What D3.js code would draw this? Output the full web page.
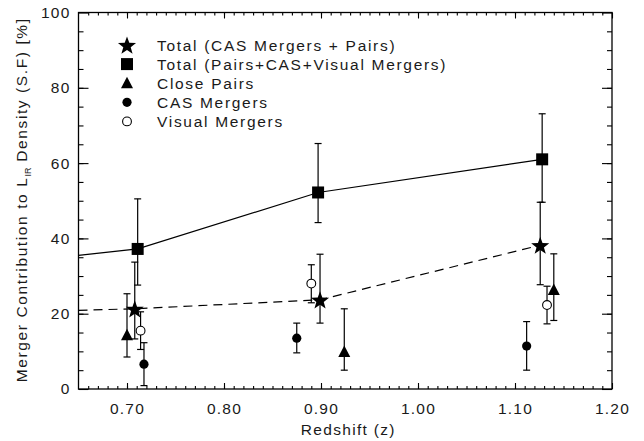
<!DOCTYPE html>
<html><head><meta charset="utf-8">
<script src="https://cdn.jsdelivr.net/npm/d3@7"></script>
<style>
body{margin:0;background:#fff}
svg{display:block}
text{font-family:"Liberation Sans",Arial,sans-serif;fill:#1a1a1a}
</style>
</head><body>
<svg id="chart" width="644" height="441"></svg>
<script>
// ---------- data ----------
const xTickValues = [0.70, 0.80, 0.90, 1.00, 1.10, 1.20];
const xTickLabels = ["0.70", "0.80", "0.90", "1.00", "1.10", "1.20"];
const yTickValues = [0, 20, 40, 60, 80, 100];
const yTickLabels = ["0", "20", "40", "60", "80", "100"];

// Total (CAS Mergers + Pairs) – stars, dashed line
const starZ  = [0.708, 0.899, 1.126];
const starV  = [21.3, 23.7, 38.2];
const starLo = [13.3, 17.5, 27.7];
const starHi = [33.7, 35.8, 49.6];
const dashStartZ = 0.65, dashStartV = 20.9;

// Total (Pairs+CAS+Visual Mergers) – squares, solid line
const squareZ  = [0.711, 0.897, 1.128];
const squareV  = [37.2, 52.2, 61.0];
const squareLo = [27.6, 44.2, 49.6];
const squareHi = [50.5, 65.2, 73.1];
const solidStartZ = 0.65, solidStartV = 35.5;

// Close Pairs – triangles
const triZ  = [0.700, 0.924, 1.140];
const triV  = [14.3, 9.8, 26.3];
const triLo = [8.5, 5.0, 18.2];
const triHi = [25.3, 21.3, 35.9];

// CAS Mergers – filled circles
const casZ  = [0.7175, 0.875, 1.112];
const casV  = [6.6, 13.5, 11.4];
const casLo = [0.9, 9.6, 5.0];
const casHi = [12.3, 17.5, 17.9];

// Visual Mergers – open circles
const visZ  = [0.714, 0.890, 1.133];
const visV  = [15.5, 28.0, 22.3];
const visLo = [10.5, 22.9, 17.3];
const visHi = [20.5, 33.0, 27.3];

const legendLabels = ["Total (CAS Mergers + Pairs)", "Total (Pairs+CAS+Visual Mergers)", "Close Pairs", "CAS Mergers", "Visual Mergers"];
const legendSymbols = ["star", "square", "triangle", "circle", "open"];

// ---------- layout ----------
const svg = d3.select("#chart");
const L = 78.5, R = 612, T = 12.5, B = 389;
const x = d3.scaleLinear().domain([0.65, 1.20]).range([L, R]);
const y = d3.scaleLinear().domain([0, 100]).range([B, T]);
const ink = "#000";

// frame
svg.append("rect").attr("x", L).attr("y", T).attr("width", R - L).attr("height", B - T)
  .attr("fill", "none").attr("stroke", ink).attr("stroke-width", 1.3);

// axes (ticks inward)
const xMinor = d3.range(66, 120).map(d => d / 100);
const yMinor = d3.range(5, 100, 5);
const fmtTickX = d => xTickLabels[xTickValues.findIndex(v => Math.abs(v - d) < 1e-9)] || "";
const fmtTickY = d => yTickLabels[yTickValues.indexOf(d)] || "";

function styleAxis(g) {
  g.select(".domain").remove();
  g.selectAll("line").attr("stroke", ink).attr("stroke-width", 1.1);
  g.selectAll("text").style("font-size", "15.5px").style("letter-spacing", "1.2px").attr("fill", "#1a1a1a");
}
// bottom
svg.append("g").attr("transform", `translate(0,${B})`)
  .call(d3.axisBottom(x).tickValues(xMinor).tickSize(-3).tickFormat("")).call(styleAxis);
svg.append("g").attr("transform", `translate(0,${B})`)
  .call(d3.axisBottom(x).tickValues(xTickValues).tickSize(-6).tickPadding(14).tickFormat(fmtTickX)).call(styleAxis);
// top
svg.append("g").attr("transform", `translate(0,${T})`)
  .call(d3.axisTop(x).tickValues(xMinor).tickSize(-3).tickFormat("")).call(styleAxis);
svg.append("g").attr("transform", `translate(0,${T})`)
  .call(d3.axisTop(x).tickValues(xTickValues).tickSize(-6).tickFormat("")).call(styleAxis);
// left
svg.append("g").attr("transform", `translate(${L},0)`)
  .call(d3.axisLeft(y).tickValues(yMinor).tickSize(-5).tickFormat("")).call(styleAxis);
svg.append("g").attr("transform", `translate(${L},0)`)
  .call(d3.axisLeft(y).tickValues(yTickValues).tickSize(-10).tickPadding(8).tickFormat(fmtTickY)).call(styleAxis);
// right
svg.append("g").attr("transform", `translate(${R},0)`)
  .call(d3.axisRight(y).tickValues(yMinor).tickSize(-5).tickFormat("")).call(styleAxis);
svg.append("g").attr("transform", `translate(${R},0)`)
  .call(d3.axisRight(y).tickValues(yTickValues).tickSize(-10).tickFormat("")).call(styleAxis);

// axis titles
svg.append("text").attr("x", (L + R) / 2 + 3).attr("y", 435).attr("text-anchor", "middle")
  .style("font-size", "15.5px").style("letter-spacing", "1.3px").text("Redshift (z)");
const yt = svg.append("text").attr("transform", `translate(27,${(T + B) / 2 - 1}) rotate(-90)`)
  .attr("text-anchor", "middle").style("font-size", "15.5px").style("letter-spacing", "1.6px");
yt.append("tspan").text("Merger Contribution to L");
yt.append("tspan").attr("dy", 4).style("font-size", "9px").style("letter-spacing", "0px").text("IR");
yt.append("tspan").attr("dy", -4).text(" Density (S.F) [%]");

// ---------- lines ----------
const line = d3.line().x(d => x(d[0])).y(d => y(d[1]));
const solidPts = [[solidStartZ, solidStartV]].concat(squareZ.map((z, i) => [z, squareV[i]]));
const dashPts = [[dashStartZ, dashStartV]].concat(starZ.map((z, i) => [z, starV[i]]));
svg.append("path").attr("d", line(solidPts)).attr("fill", "none").attr("stroke", ink).attr("stroke-width", 1.2);
svg.append("path").attr("d", line(dashPts)).attr("fill", "none").attr("stroke", ink).attr("stroke-width", 1.2)
  .attr("stroke-dasharray", "9,6");

// ---------- error bars ----------
function errorBars(Z, Lo, Hi) {
  const g = svg.append("g").attr("stroke", ink).attr("stroke-width", 1.2);
  Z.forEach((z, i) => {
    const cx = x(z);
    g.append("line").attr("x1", cx).attr("x2", cx).attr("y1", y(Lo[i])).attr("y2", y(Hi[i]));
    g.append("line").attr("x1", cx - 3.5).attr("x2", cx + 3.5).attr("y1", y(Lo[i])).attr("y2", y(Lo[i]));
    g.append("line").attr("x1", cx - 3.5).attr("x2", cx + 3.5).attr("y1", y(Hi[i])).attr("y2", y(Hi[i]));
  });
}
errorBars(squareZ, squareLo, squareHi);
errorBars(starZ, starLo, starHi);
errorBars(triZ, triLo, triHi);
errorBars(casZ, casLo, casHi);
errorBars(visZ, visLo, visHi);

// ---------- markers ----------
function starPath(ro, ri) {
  const p = [];
  for (let k = 0; k < 10; k++) {
    const a = -Math.PI / 2 + k * Math.PI / 5;
    const r = k % 2 ? ri : ro;
    p.push([r * Math.cos(a), r * Math.sin(a)]);
  }
  return "M" + p.map(q => q[0].toFixed(2) + "," + q[1].toFixed(2)).join("L") + "Z";
}
function drawSymbol(g, type, cx, cy) {
  if (type === "star") {
    g.append("path").attr("d", starPath(9.5, 3.9)).attr("transform", `translate(${cx},${cy + 1})`).attr("fill", ink);
  } else if (type === "square") {
    g.append("rect").attr("x", cx - 6).attr("y", cy - 6).attr("width", 12).attr("height", 12).attr("fill", ink);
  } else if (type === "triangle") {
    g.append("path").attr("d", `M${cx},${cy - 6.5}L${cx + 6},${cy + 5}L${cx - 6},${cy + 5}Z`).attr("fill", ink);
  } else if (type === "circle") {
    g.append("circle").attr("cx", cx).attr("cy", cy).attr("r", 4.6).attr("fill", ink);
  } else {
    g.append("circle").attr("cx", cx).attr("cy", cy).attr("r", 4.4).attr("fill", "#fff").attr("stroke", ink).attr("stroke-width", 1.1);
  }
}
const mk = svg.append("g");
squareZ.forEach((z, i) => drawSymbol(mk, "square", x(z), y(squareV[i])));
triZ.forEach((z, i) => drawSymbol(mk, "triangle", x(z), y(triV[i])));
casZ.forEach((z, i) => drawSymbol(mk, "circle", x(z), y(casV[i])));
visZ.forEach((z, i) => drawSymbol(mk, "open", x(z), y(visV[i])));
starZ.forEach((z, i) => drawSymbol(mk, "star", x(z), y(starV[i])));

// ---------- legend ----------
const lg = svg.append("g");
legendLabels.forEach((lab, i) => {
  const cy = 45 + i * 19.1;
  drawSymbol(lg, legendSymbols[i], 127, cy);
  lg.append("text").attr("x", 157).attr("y", cy + 5.5).style("font-size", "15.5px").style("letter-spacing", "1.7px").text(lab);
});
</script>
</body></html>
